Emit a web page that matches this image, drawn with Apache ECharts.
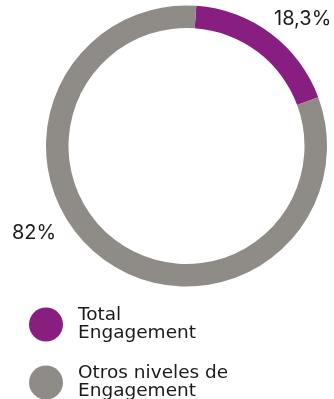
<!DOCTYPE html>
<html>
<head>
<meta charset="utf-8">
<script src="https://cdn.jsdelivr.net/npm/echarts@6/dist/echarts.min.js"></script>
<style>
  html, body { margin: 0; padding: 0; background: #ffffff; }
  #chart { width: 334px; height: 399px; }
</style>
</head>
<body>
<div id="chart"></div>
<script>
// Engagement share, two segments of a ring
const categories = ['Total\nEngagement', 'Otros niveles de\nEngagement'];
const values = [18.3, 82];
const colors = ['#871E80', '#8F8B86'];

// Where each percentage label sits (absolute pixels)
const labelSpots = [
  { x: 274, y: 19, align: 'left' },
  { x: 12, y: 233, align: 'left' }
];
// Top edge of each legend entry
const legendTops = [306, 364];

const LABEL_FONT = 'Inter, "Noto Sans", sans-serif';
const LEGEND_FONT = '"DejaVu Sans", sans-serif';

const chart = echarts.init(document.getElementById('chart'), null, { renderer: 'canvas' });

const fmtPct = v => String(v).replace('.', ',') + '%';

// one legend block per category, stacked vertically
const legends = categories.map((name, i) => ({
  orient: 'vertical',
  left: 29,
  top: legendTops[i],
  padding: 0,
  icon: 'circle',
  itemWidth: 34,
  itemHeight: 34,
  selectedMode: false,
  textStyle: {
    fontFamily: LEGEND_FONT,
    fontSize: 18.5,
    lineHeight: 18,
    color: '#1a1a1a',
    padding: [0, 0, 0, 10]
  },
  data: [name]
}));

chart.setOption({
  animation: false,
  backgroundColor: '#ffffff',
  legend: legends,
  series: [{
    type: 'pie',
    center: [186.5, 146],
    radius: [118, 140.5],
    startAngle: 86,
    clockwise: true,
    avoidLabelOverlap: false,
    silent: true,
    data: categories.map((name, i) => ({
      name: name,
      value: values[i],
      itemStyle: { color: colors[i] }
    })),
    label: {
      show: true,
      position: 'outside',
      formatter: p => fmtPct(p.value),
      fontFamily: LABEL_FONT,
      fontSize: 20,
      color: '#1a1a1a'
    },
    labelLine: { show: false },
    labelLayout: params => {
      const s = labelSpots[params.dataIndex];
      return { x: s.x, y: s.y, align: s.align, verticalAlign: 'middle' };
    }
  }]
});
</script>
</body>
</html>
